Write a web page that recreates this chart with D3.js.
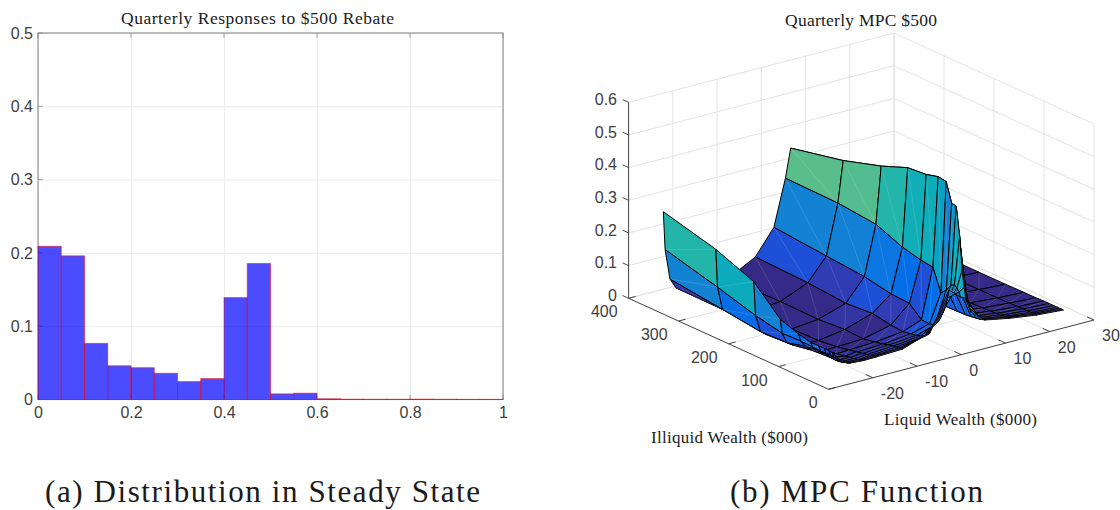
<!DOCTYPE html>
<html>
<head>
<meta charset="utf-8">
<script src="https://cdnjs.cloudflare.com/ajax/libs/d3/7.8.5/d3.min.js"></script>
<style>
body { margin: 0; background: #fff; }
svg { display: block; }
.num { font-family: "Liberation Sans", Arial, sans-serif; font-size: 16px; fill: #404040; }
.tex { font-family: "Liberation Serif", serif; fill: #1a1a1a; }
</style>
</head>
<body>
<div id="chart"></div>
<script>
// left panel: histogram of quarterly responses
var binEdges = [0,.05,.1,.15,.2,.25,.3,.35,.4,.45,.5,.55,.6,.65,.7,.75,.8,.85,.9,.95,1]
var binShares = [.209,.196,.0765,.046,.0434,.0357,.0244,.0285,.139,.1855,.0077,.0086,.001,.0004,.0003,.0003,.0005,.0003,.0002,.0002]
var histXTicks = [0,.2,.4,.6,.8,1]
var histYTicks = [0,.1,.2,.3,.4,.5]

// right panel: MPC surface, rows follow illiquidGrid, columns follow liquidGrid
var liquidGrid = [-27.8,-27.4,-26.3,-24.95,-22,-19.2,-13.25,-7,-2.8,-.2,1,1.15,1.4,2.2,5.4,11,17.1,23.1]
var illiquidGrid = [350,245,169,116,79,55,39,28,19,12,7,3,0]
var mpc = [
  [.292,.175,.081,.049,.032,.032,.035,.08,.156,.297,.385,.3,.22,.12,.072,.062,.056,.053],
  [.25,.133,.061,.048,.03,.03,.039,.074,.141,.294,.42,.33,.24,.13,.072,.062,.056,.053],
  [.204,.099,.046,.032,.03,.029,.037,.064,.131,.282,.456,.36,.26,.14,.072,.063,.057,.053],
  [.126,.082,.049,.037,.032,.03,.043,.07,.115,.249,.488,.38,.28,.15,.073,.065,.058,.053],
  [.106,.084,.064,.047,.036,.037,.04,.06,.112,.235,.493,.4,.3,.16,.074,.065,.058,.054],
  [.097,.082,.069,.05,.042,.044,.047,.057,.078,.23,.503,.41,.32,.17,.075,.066,.059,.054],
  [.098,.081,.068,.051,.046,.049,.052,.061,.077,.162,.499,.42,.34,.18,.076,.067,.059,.055],
  [.098,.082,.065,.051,.05,.052,.057,.064,.081,.179,.44,.4,.36,.19,.078,.068,.06,.055],
  [.098,.083,.063,.054,.052,.055,.06,.069,.103,.2,.438,.41,.378,.185,.08,.069,.06,.055],
  [.095,.081,.064,.057,.054,.057,.062,.073,.129,.206,.349,.32,.291,.165,.082,.07,.06,.055],
  [.092,.08,.066,.058,.056,.059,.062,.08,.154,.2,.25,.24,.233,.147,.084,.071,.061,.055],
  [.089,.08,.068,.061,.058,.06,.064,.086,.181,.19,.2,.195,.19,.132,.086,.072,.061,.055],
  [.087,.079,.069,.063,.06,.061,.064,.094,.208,.177,.17,.16,.153,.122,.087,.0725,.061,.055]
]
// colour value of each surface cell
var cellShade = [
  [.38,.2,.05,.02,0,0,0,.08,.2,.46,.46,.46,.3,.1,0,0,0],
  [.31,.12,.05,.02,0,0,0,.05,.19,.45,.45,.45,.3,.1,0,0,0],
  [.2,.08,.04,.02,0,0,.03,.08,.15,.38,.4,.4,.3,.1,0,0,0],
  [.12,.1,.03,.02,0,0,0,.05,.12,.33,.4,.4,.3,.1,0,0,0],
  [.12,.12,.03,.02,0,0,.03,.05,.08,.32,.4,.4,.3,.1,0,0,0],
  [.12,.12,.03,.02,.02,.02,.03,.08,.12,.28,.4,.4,.3,.1,0,0,0],
  [.1,.1,.03,.02,.03,.03,.04,.1,.12,.2,.55,.55,.4,.1,.01,.01,.01],
  [.08,.08,.03,.02,.04,.04,.05,.08,.18,.25,.6,.6,.42,.12,.01,.01,.01],
  [.06,.06,.03,.03,.05,.05,.05,.05,.22,.3,.7,.7,.6,.15,.02,.02,.02],
  [.05,.04,.03,.03,.05,.05,.05,.05,.22,.3,.68,.68,.55,.15,.03,.03,.03],
  [.05,.04,.03,.03,.05,.05,.05,.05,.2,.3,.45,.45,.32,.15,.04,.04,.04],
  [.05,.04,.03,.03,.05,.05,.05,.05,.18,.28,.36,.36,.3,.15,.05,.05,.05]
]
var shadeStops = [0,.05,.08,.12,.2,.3,.38,.46,.6,.7]
var shadeColors = ['#352a87','#303cb4','#1e50d7','#056ee6','#1482d2','#08aabe','#23b4aa','#5abe8c','#a0a060','#202015']
var liquidTicks = [-20,-10,0,10,20,30]
var illiquidTicks = [0,100,200,300,400]
var mpcTicks = [0,.1,.2,.3,.4,.5,.6]

var svg = d3.select("#chart").append("svg").attr("width", 1120).attr("height", 510)

// ---- histogram ----
var x = d3.scaleLinear().domain([0,1]).range([38,503])
var y = d3.scaleLinear().domain([0,.5]).range([399.5,33])
var g_hist = svg.append("g")

var xAxis = g_hist.append("g").attr("transform", "translate(0,399.5)")
  .call(d3.axisBottom(x).tickValues(histXTicks).tickSize(-366.5).tickPadding(7).tickFormat(d3.format("~g")))
var yAxis = g_hist.append("g").attr("transform", "translate(38,0)")
  .call(d3.axisLeft(y).tickValues(histYTicks).tickSize(-465).tickPadding(5).tickFormat(d3.format("~g")))
g_hist.selectAll(".tick line").style("stroke", "#ebebeb").style("stroke-width", 1)
g_hist.selectAll(".tick text").attr("class", "num").style("font-size", "16px").style("font-family", null)
g_hist.selectAll(".domain").remove()

// box with the short inward ticks, the bars sit on top of it
g_hist.append("rect").attr("x", 38).attr("y", 33).attr("width", 465).attr("height", 366.5)
  .style("fill", "none").style("stroke", "#808080").style("stroke-width", 1)
histYTicks.forEach(function(t) {
  g_hist.append("line").attr("x1", 38).attr("x2", 43).attr("y1", y(t)).attr("y2", y(t)).style("stroke", "#808080").style("stroke-width", .7)
})
histXTicks.forEach(function(t) {
  g_hist.append("line").attr("x1", x(t)).attr("x2", x(t)).attr("y1", 399.5).attr("y2", 394.5).style("stroke", "#808080").style("stroke-width", .7)
  g_hist.append("line").attr("x1", x(t)).attr("x2", x(t)).attr("y1", 33).attr("y2", 38).style("stroke", "#808080").style("stroke-width", .7)
})

g_hist.selectAll("rect.bar").data(binShares).enter().append("rect").attr("class", "bar")
  .attr("x", function(d, i) { return x(binEdges[i]) })
  .attr("width", function(d, i) { return x(binEdges[i+1]) - x(binEdges[i]) })
  .attr("y", function(d) { return y(d) })
  .attr("height", function(d) { return y(0) - y(d) })
  .style("fill", "#0000ff").style("fill-opacity", .7)
  .style("stroke", "#ff0000").style("stroke-opacity", .55).style("stroke-width", 1)

// ---- surface: fixed oblique view, each data axis has its own screen scales ----
var liquidX = d3.scaleLinear().domain([-30,30]).range([0,265.4])
var liquidY = d3.scaleLinear().domain([-30,30]).range([0,-69.3])
var illiquidX = d3.scaleLinear().domain([0,400]).range([0,-200])
var illiquidY = d3.scaleLinear().domain([0,400]).range([0,-91])
var mpcY = d3.scaleLinear().domain([0,.6]).range([0,-196])
var shade = d3.scaleLinear().domain(shadeStops).range(shadeColors)

function project(l, a, z) {
  return [828.6 + liquidX(l) + illiquidX(a), 389.3 + liquidY(l) + illiquidY(a) + mpcY(z)]
}
function seg(g, p, q, stroke, w) {
  g.append("line").attr("x1", p[0]).attr("y1", p[1]).attr("x2", q[0]).attr("y2", q[1])
    .style("stroke", stroke).style("stroke-width", w)
}

var g_box = svg.append("g")
var gridCol = "#e3e3e3"
mpcTicks.forEach(function(t) {
  seg(g_box, project(-30,400,t), project(30,400,t), gridCol, 1)
  seg(g_box, project(30,400,t), project(30,0,t), gridCol, 1)
})
liquidTicks.concat([-30]).forEach(function(t) {
  seg(g_box, project(t,400,0), project(t,400,.6), gridCol, 1)
  seg(g_box, project(t,0,0), project(t,400,0), gridCol, 1)
})
illiquidTicks.forEach(function(t) {
  seg(g_box, project(30,t,0), project(30,t,.6), gridCol, 1)
  seg(g_box, project(-30,t,0), project(30,t,0), gridCol, 1)
})

// painter's order: far rows first, high liquid first
var g_surf = svg.append("g")
d3.range(illiquidGrid.length - 1).forEach(function(r) {
  d3.range(liquidGrid.length - 2, -1, -1).forEach(function(c) {
    var corners = [
      project(liquidGrid[c], illiquidGrid[r], mpc[r][c]),
      project(liquidGrid[c+1], illiquidGrid[r], mpc[r][c+1]),
      project(liquidGrid[c+1], illiquidGrid[r+1], mpc[r+1][c+1]),
      project(liquidGrid[c], illiquidGrid[r+1], mpc[r+1][c])
    ]
    g_surf.append("path").attr("d", d3.line()(corners) + "Z")
      .style("fill", shade(cellShade[r][c])).style("stroke", "#000").style("stroke-width", 1).style("stroke-linejoin", "round")
    seg(g_surf, corners[1], corners[3], "rgba(255,255,255,.22)", .6)
  })
})

// axis lines, ticks, labels
var g_ax = svg.append("g")
var axCol = "#333"
seg(g_ax, project(-30,400,0), project(-30,400,.6), axCol, .9)
seg(g_ax, project(-30,0,0), project(-30,400,0), axCol, .9)
seg(g_ax, project(-30,0,0), project(30,0,0), axCol, .9)

mpcTicks.forEach(function(t) {
  var p = project(-30,400,t)
  seg(g_ax, p, project(-30,412,t), axCol, .9)
  g_ax.append("text").attr("class", "num").attr("x", 617).attr("y", p[1] - 3).attr("dy", ".35em")
    .attr("text-anchor", "end").text(d3.format("~g")(t))
})
illiquidTicks.forEach(function(t) {
  var p = project(-30,t,0)
  seg(g_ax, p, project(-28.4,t,0), axCol, .9)
  g_ax.append("text").attr("class", "num").attr("x", p[0] - 11).attr("y", p[1] + 13.5).attr("dy", ".35em")
    .attr("text-anchor", "end").text(t)
})
liquidTicks.forEach(function(t) {
  var p = project(t,0,0)
  seg(g_ax, p, project(t,14,0), axCol, .9)
  g_ax.append("text").attr("class", "num").attr("x", p[0] + 8).attr("y", p[1] + 15.5).attr("dy", ".35em")
    .attr("text-anchor", "start").text(t)
})

// titles and captions, serif stand in for the LaTeX face
function tex(txt, x0, x1, base, size) {
  svg.append("text").attr("class", "tex").attr("x", x0).attr("y", base)
    .attr("textLength", x1 - x0).attr("lengthAdjust", "spacing").style("font-size", size + "px").text(txt)
}
tex("Quarterly Responses to $500 Rebate", 121, 394, 24, 17.5)
tex("Quarterly MPC $500", 785, 937, 26, 17.5)
tex("Liquid Wealth ($000)", 884, 1037, 425, 17)
tex("Illiquid Wealth ($000)", 651, 808, 443, 17)
tex("(a) Distribution in Steady State", 45, 480, 502, 31)
tex("(b) MPC Function", 730, 983, 502, 31)
</script>
</body>
</html>
